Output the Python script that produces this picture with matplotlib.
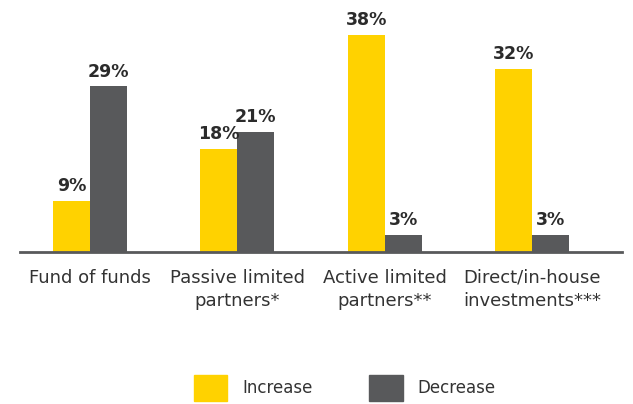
import numpy as np
import matplotlib
matplotlib.use("Agg")
import matplotlib.pyplot as plt
from matplotlib.patches import Patch

categories = ["Fund of funds", "Passive limited\npartners*",
              "Active limited\npartners**", "Direct/in-house\ninvestments***"]
increase = [9, 18, 38, 32]
decrease = [29, 21, 3, 3]

yellow = "#FFD200"
grey = "#58595B"

plt.rcParams['font.family'] = ['DejaVu Sans']

fig = plt.figure(figsize=(6.33, 4.04), dpi=100)
ax = fig.add_axes([20/633, 1 - 252/404, 602/633, 232/404])

x = np.arange(len(categories))
w = 0.251
b1 = ax.bar(x - w/2, increase, w, color=yellow)
b2 = ax.bar(x + w/2, decrease, w, color=grey)

for bars, vals in ((b1, increase), (b2, decrease)):
    for r, v in zip(bars, vals):
        ax.text(r.get_x() + r.get_width()/2, v + 1.0, f"{v}%",
                ha="center", va="bottom", fontsize=12.5, fontweight="bold",
                color="#2b2b2b")

ax.set_xlim(-0.475, 3.61)
ax.set_ylim(0, 40.6)
ax.set_xticks(x)
ax.set_xticklabels(categories, fontsize=13, color="#333333", linespacing=1.4)
ax.tick_params(axis="x", length=0, pad=12)
ax.set_yticks([])
for s in ["top", "right", "left"]:
    ax.spines[s].set_visible(False)
ax.spines["bottom"].set_color(grey)
ax.spines["bottom"].set_linewidth(2)

handles = [Patch(color=yellow, label="Increase"), Patch(color=grey, label="Decrease")]
fig.legend(handles=handles, loc="center", bbox_to_anchor=(0.545, 1 - 388/404),
           ncol=2, frameon=False, fontsize=12, handlelength=2.0, handleheight=2.1,
           handletextpad=0.9, columnspacing=3.4, labelcolor="#333333")

fig.savefig("out.png", dpi=100)
